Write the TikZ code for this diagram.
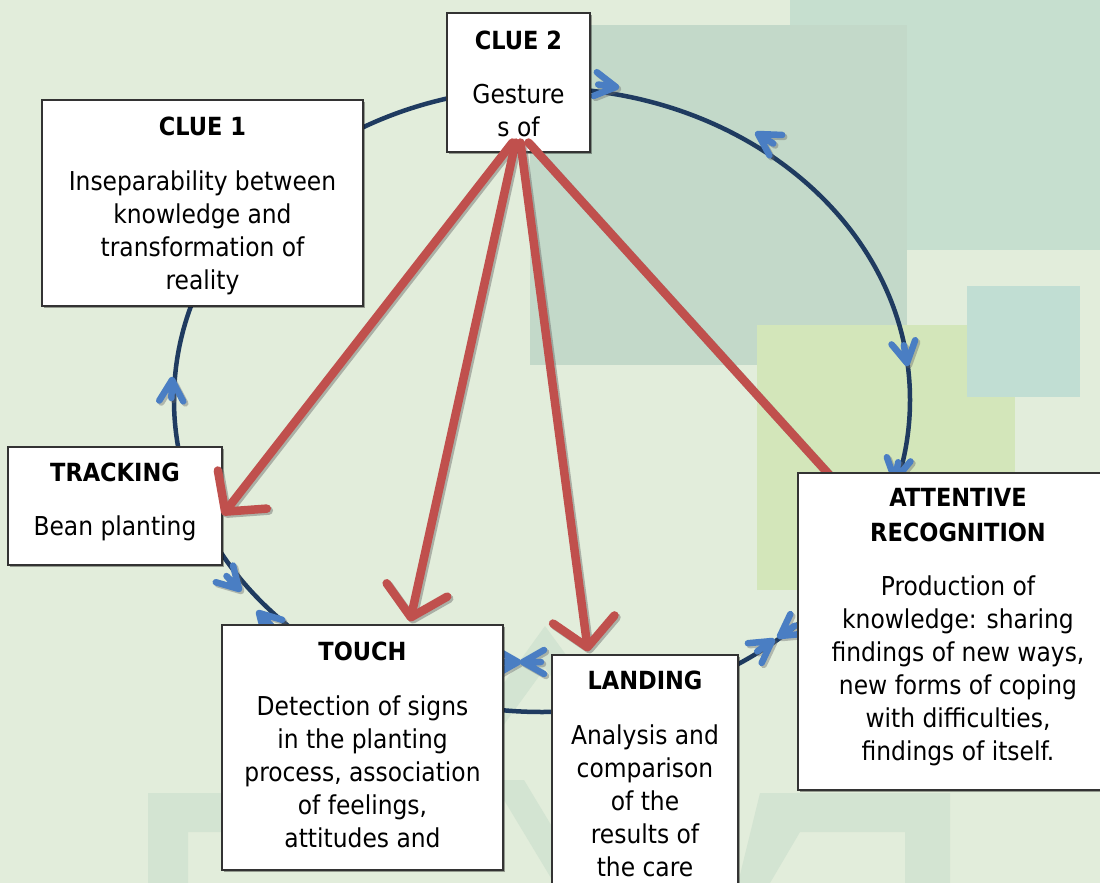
\documentclass[tikz,border=0pt]{standalone}
\usepackage{fontspec}
\setmainfont{DejaVu Sans Condensed}
\usetikzlibrary{arrows.meta,shadows}

\definecolor{bgbase}{HTML}{E2EDDB}
\definecolor{bgteal}{HTML}{C3D9C9}
\definecolor{bgmint}{HTML}{C6DFCF}
\definecolor{bgblue}{HTML}{C1DED3}
\definecolor{bglime}{HTML}{D3E6BA}
\definecolor{bgpat}{HTML}{D3E4D2}
\definecolor{ringcol}{HTML}{1F3B60}
\definecolor{chevcol}{HTML}{4A7EC3}
\definecolor{redcol}{HTML}{C0504D}

\tikzset{
  box/.style={draw=black!80, line width=1.1pt, fill=white, inner sep=0pt,
    drop shadow={shadow xshift=2pt, shadow yshift=-2pt, opacity=0.35, fill=black}},
  txt/.style={align=center, inner sep=0pt, anchor=base, font=\fontsize{26}{33}\selectfont},
  ring/.style={draw=ringcol, line width=4.5pt},
  redline/.style={draw=redcol, line width=8.5pt, line cap=round},
  redarrow/.style={redline, -{Straight Barb[length=28pt,width=62pt,round]}},
  redshadow/.style={draw=black!60, opacity=0.45, line width=8.5pt, line cap=round,
    -{Straight Barb[length=28pt,width=62pt,round]}},
  chevline/.style={draw=chevcol, line width=6.5pt, line cap=round, line join=round},
  chevshadow/.style={draw=black!60, opacity=0.4, line width=6.5pt, line cap=round, line join=round}
}

\newcommand\chevat[3]{%
  \begin{scope}[shift={(#1+2,#2+2)}, rotate=#3]
    \draw[chevshadow] (-21,12) -- (0,0) -- (-21,-12) (0,0) -- (-18,0);
  \end{scope}
  \begin{scope}[shift={(#1,#2)}, rotate=#3]
    \draw[chevline] (-21,12) -- (0,0) -- (-21,-12) (0,0) -- (-18,0);
  \end{scope}}

\begin{document}
\begin{tikzpicture}[x=1pt,y=-1pt]
\useasboundingbox (0,0) rectangle (1100,883);
\clip (0,0) rectangle (1100,883);

% background
\fill[bgbase] (0,0) rectangle (1100,883);
\fill[bgmint] (790,0) rectangle (1100,250);
\fill[bgteal] (530,25) rectangle (907,365);
\fill[bglime] (757,325) rectangle (1015,590);
\fill[bgblue] (967,286) rectangle (1080,397);
\fill[bgpat] (148,793) -- (245,793) -- (245,832) -- (188,832) -- (188,883) -- (148,883) -- cycle;
\fill[bgpat] (545,626) -- (610,715) -- (580,715) -- (545,668) -- (500,730) -- (470,730) -- cycle;
\fill[bgpat] (492,780) -- (524,780) -- (586,883) -- (554,883) -- cycle;
\fill[bgpat] (760,793) -- (950,793) -- (950,883) -- (905,883) -- (905,832) -- (800,832) -- (770,883) -- (738,883) -- cycle;

% cycle ring
\draw[ring] (542,400) ellipse [x radius=368, y radius=312];

% chevrons along the cycle
\chevat{616}{87}{-8}
\chevat{758}{134}{148}
\chevat{907}{363}{-80}
\chevat{895}{480}{-100}
\chevat{772}{641}{35}
\chevat{780}{636}{215}
\chevat{518}{662}{0}
\chevat{523}{662}{180}
\chevat{239}{589}{-46}
\chevat{259}{613}{134}
\chevat{172}{380}{88}

% boxes
\node[box, minimum width=321pt, minimum height=206pt] (c1) at (202.5,203) {};
\node[txt] (c1t) at (202.5,289) {\textbf{\fontsize{25}{33}\selectfont CLUE 1}\\[22pt]Inseparability between\\knowledge and\\transformation of\\reality};

\node[box, minimum width=143pt, minimum height=139pt] (c2) at (518.5,82.5) {};
\node[txt] (c2t) at (518.5,136) {\textbf{\fontsize{25}{33}\selectfont CLUE 2}\\[21pt]Gesture\\s of};

\node[box, minimum width=214pt, minimum height=118pt] (tr) at (115,506) {};
\node[txt] (trt) at (115,535) {\textbf{\fontsize{25}{33}\selectfont TRACKING}\\[21pt]Bean planting};

\node[box, minimum width=281pt, minimum height=245pt] (tc) at (362.5,747.5) {};
\node[txt] (tct) at (362.5,847) {\textbf{\fontsize{25}{33}\selectfont TOUCH}\\[22pt]Detection of signs\\in the planting\\process, association\\of feelings,\\attitudes and};

\node[box, minimum width=186pt, minimum height=245pt] (ld) at (645,777.5) {};
\node[txt] (ldt) at (645,876) {\textbf{\fontsize{25}{33}\selectfont LANDING}\\[22pt]Analysis and\\comparison\\of the\\results of\\the care};

% red arrows from CLUE 2
\coordinate (s1) at ([xshift=-6pt,yshift=10pt]c2.south);
\coordinate (s2) at ([xshift=-3pt,yshift=10pt]c2.south);
\coordinate (s3) at ([xshift=2pt,yshift=10pt]c2.south);
\coordinate (s4) at ([xshift=10pt,yshift=10pt]c2.south);
\coordinate (e1) at ([yshift=-9pt]tr.east);
\coordinate (e2) at ([xshift=47.5pt,yshift=3pt]tc.north);
\coordinate (e3) at ([xshift=-57pt,yshift=3pt]ld.north);
\coordinate (attin) at (834,480);

\draw[redshadow] ([xshift=2pt,yshift=-2pt]s1) -- ([xshift=2pt,yshift=-2pt]e1);
\draw[redshadow] ([xshift=2pt,yshift=-2pt]s2) -- ([xshift=2pt,yshift=-2pt]e2);
\draw[redshadow] ([xshift=2pt,yshift=-2pt]s3) -- ([xshift=2pt,yshift=-2pt]e3);
\draw[draw=black!60, opacity=0.45, line width=8.5pt] ([xshift=2pt,yshift=-2pt]s4) -- ([xshift=2pt,yshift=-2pt]attin);
\draw[redarrow] (s1) -- (e1);
\draw[redarrow] (s2) -- (e2);
\draw[redarrow] (s3) -- (e3);
\draw[redline] (s4) -- (attin);

\node[box, minimum width=320pt, minimum height=317pt] (at) at (958,631.5) {};
\node[txt] (att) at (958,760) {\textbf{\fontsize{25}{33}\selectfont ATTENTIVE}\\[2pt]\textbf{\fontsize{25}{33}\selectfont RECOGNITION}\\[21pt]Production of\\knowledge: sharing\\findings of new ways,\\new forms of coping\\with difficulties,\\findings of itself.};
\end{tikzpicture}
\end{document}
